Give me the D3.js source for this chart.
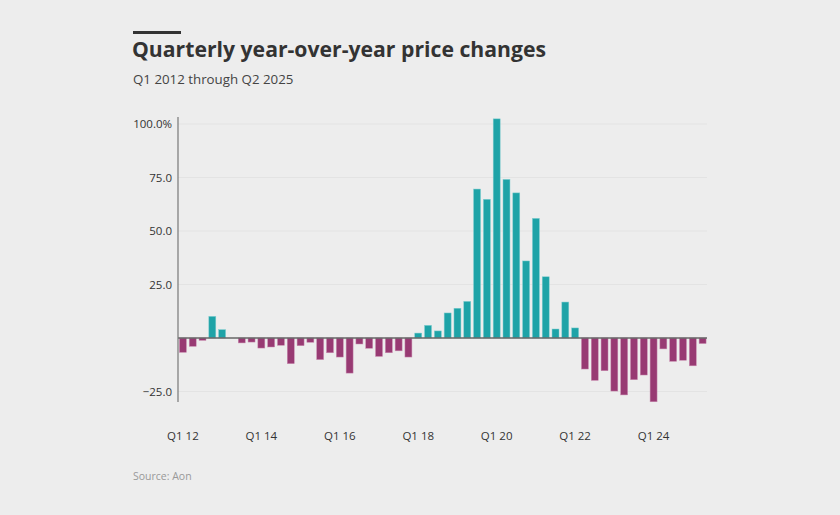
<!DOCTYPE html>
<html>
<head>
<meta charset="utf-8">
<script src="https://cdn.jsdelivr.net/npm/d3@7"></script>
<style>
  body { margin: 0; background: #ededed; }
  svg { display: block; font-family: "Open Sans", sans-serif; }
</style>
</head>
<body>
<svg id="chart"></svg>
<script>
var width = 840;
var height = 515;

// data, Q1 2012 .. Q2 2025
var years = d3.range(2012, 2026);
var quarters = [];
years.forEach(function (y) {
    for (var q = 1; q <= 4; q++) {
        if (y == 2025 && q > 2) break;
        quarters.push("Q" + q + " " + String(y).slice(2));
    }
});
var changes = [
    -6.7, -3.9, -1.1, 10.1, 3.9, 0,
    -2.3, -1.9, -4.7, -4.2, -3.4, -12.0,
    -3.6, -2.0, -10.1, -6.9, -8.9, -16.4,
    -2.8, -4.8, -8.6, -6.9, -6.0, -8.9,
    2.3, 5.9, 3.3, 11.7, 13.9, 17.1,
    69.6, 64.8, 102.4, 74.1, 67.8, 36.0,
    55.9, 28.6, 4.2, 16.8, 4.7,
    -14.5, -19.8, -15.3, -24.8, -26.6, -19.5,
    -17.3, -29.8, -5.1, -10.9, -10.4, -13.0, -2.6
];
var yTicks = [-25, 25, 50, 75, 100];
var xTicks = ["Q1 12", "Q1 14", "Q1 16", "Q1 18", "Q1 20", "Q1 22", "Q1 24"];

var svg = d3.select("#chart").attr("width", width).attr("height", height);

var x = d3.scaleBand()
    .domain(quarters)
    .range([178, 707.5])
    .paddingInner(0.29)
    .paddingOuter(0.145);

var y = d3.scaleLinear()
    .domain([-25, 100])
    .range([391.5, 124]);

// header
svg.append("rect")
    .attr("x", 133).attr("y", 31)
    .attr("width", 48).attr("height", 3)
    .attr("fill", "#333");
svg.append("text")
    .attr("x", 132).attr("y", 57)
    .attr("font-size", 21.2)
    .attr("font-weight", "bold")
    .attr("fill", "#333")
    .text("Quarterly year-over-year price changes");
svg.append("text")
    .attr("x", 133).attr("y", 84)
    .attr("font-size", 13.3)
    .attr("fill", "#444")
    .text("Q1 2012 through Q2 2025");

// grid lines
svg.append("g")
    .selectAll("line")
    .data(yTicks)
    .join("line")
    .attr("x1", 178).attr("x2", 707)
    .attr("y1", function (d) { return y(d); })
    .attr("y2", function (d) { return y(d); })
    .attr("stroke", "#e3e3e3")
    .attr("stroke-width", 1);

// y labels
svg.append("g")
    .selectAll("text")
    .data(yTicks)
    .join("text")
    .attr("x", 172)
    .attr("y", function (d) { return y(d); })
    .attr("dy", "0.35em")
    .attr("text-anchor", "end")
    .attr("font-size", 11.5)
    .attr("fill", "#333")
    .text(function (d) {
        var s = d3.format(".1f")(d);
        return d == 100 ? s + "%" : s.replace("-", "\u2212");
    });

// bars
svg.append("g")
    .selectAll("rect")
    .data(changes)
    .join("rect")
    .attr("x", function (d, i) { return x(quarters[i]); })
    .attr("width", x.bandwidth())
    .attr("y", function (d) { return y(Math.max(0, d)); })
    .attr("height", function (d) { return Math.abs(y(d) - y(0)); })
    .attr("fill", function (d) { return d >= 0 ? "#1ea3a7" : "#983a73"; })
    .attr("stroke", function (d) { return d >= 0 ? "#7fcdcf" : "#c98bb0"; })
    .attr("stroke-width", 0.5);

// zero line
svg.append("line")
    .attr("x1", 178).attr("x2", 707)
    .attr("y1", y(0)).attr("y2", y(0))
    .attr("stroke", "#666")
    .attr("stroke-width", 1.5);

// y axis line
svg.append("line")
    .attr("x1", 178).attr("x2", 178)
    .attr("y1", 117).attr("y2", 402)
    .attr("stroke", "#777")
    .attr("stroke-width", 1.2);

// x labels
svg.append("g")
    .selectAll("text")
    .data(xTicks)
    .join("text")
    .attr("x", function (d) { return x(d) + x.bandwidth() / 2; })
    .attr("y", 440)
    .attr("text-anchor", "middle")
    .attr("font-size", 11.5)
    .attr("fill", "#333")
    .text(function (d) { return d; });

svg.append("text")
    .attr("x", 133).attr("y", 480)
    .attr("font-size", 10.5)
    .attr("fill", "#999")
    .text("Source: Aon");
</script>
</body>
</html>
